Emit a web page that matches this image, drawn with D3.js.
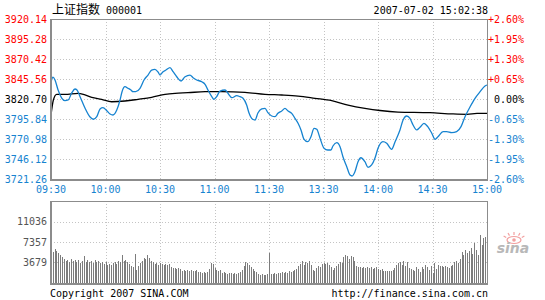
<!DOCTYPE html>
<html>
<head>
<meta charset="utf-8">
<script src="https://cdn.jsdelivr.net/npm/d3@7"></script>
<style>
  body { margin: 0; background: #fff; }
  svg { display: block; }
  text { font-family: "DejaVu Sans Mono", "Liberation Mono", monospace; font-size: 10px; }
</style>
</head>
<body>
<div id="chart"></div>
<script>
// --- data ---
const priceTicks = [3920.14, 3895.28, 3870.42, 3845.56, 3820.70, 3795.84, 3770.98, 3746.12, 3721.26];
const pctLabels = ["+2.60%", "+1.95%", "+1.30%", "+0.65%", "0.00%", "-0.65%", "-1.30%", "-1.95%", "-2.60%"];
const timeTicks = [0, 30, 60, 90, 120, 150, 180, 210, 240];
const timeLabels = ["09:30", "10:00", "10:30", "11:00", "11:30", "13:30", "14:00", "14:30", "15:00"];
const volTicks = [3679, 7357, 11036];
const volMax = 14715;

// index line (minute from open, price)
const priceMinutes = [0, 1.1, 2.2, 3.9, 5.9, 7.7, 9.5, 11.4, 13.2, 14.3, 16, 18.7, 21.5, 23.3, 25.2, 27, 28.6, 30.7, 32.5, 34.1,
  36.2, 38, 39.1, 40.7, 42.4, 44, 45.1, 46.6, 49, 51.2, 53.4, 55.4, 57.2, 58.9, 60, 61.7, 63.3, 65.5, 67.2, 69.2,
  71.6, 73.8, 76.5, 78.2, 80.2, 83, 84.8, 86.4, 88.5, 89.7, 91.2, 93, 95.8, 97.4, 99.6, 102.2, 104, 105.7, 107.7, 109,
  111, 112.3, 113.9, 116, 117.8, 119.4, 121.5, 123.3, 124.9, 127, 128.8, 130.5, 132.5, 134.3, 136, 137.6, 139.3, 141.3, 143.1, 144.8,
  146.3, 148.1, 150.3, 152.3, 154.1, 155.2, 157.3, 159.1, 160.7, 162.8, 164.6, 165.7, 167.3, 169, 170.6, 172.8, 174.5, 176.5, 178.3, 180,
  182.7, 184.8, 187.5, 189.4, 192.1, 193.8, 195.8, 197.6, 199.3, 201.3, 203.1, 205.3, 207.4, 209.6, 211.4, 213, 215.8, 217.8, 220.6, 223.3,
  225.7, 227.9, 230.7, 233.4, 236.2, 238.9, 240];
const priceValues = [3841.8, 3848.0, 3844.3, 3831.9, 3821.9, 3818.6, 3819.5, 3828.2, 3833.1, 3831.9, 3823.6, 3809.5, 3798.3, 3795.5, 3798.7, 3808.3, 3809.9, 3806.2, 3802.1, 3800.8,
  3807.0, 3819.5, 3829.8, 3836.0, 3834.0, 3831.9, 3829.8, 3829.8, 3834.0, 3844.3, 3850.5, 3856.7, 3857.6, 3854.3, 3850.5, 3854.6, 3856.7, 3859.6, 3854.6, 3848.4,
  3843.1, 3848.4, 3850.5, 3847.2, 3844.3, 3842.2, 3839.0, 3831.9, 3823.6, 3820.3, 3823.6, 3830.6, 3831.9, 3827.8, 3822.3, 3824.8, 3823.6, 3821.6, 3813.2, 3803.3,
  3795.5, 3794.6, 3803.3, 3808.3, 3809.1, 3803.7, 3799.6, 3798.7, 3802.9, 3805.8, 3809.1, 3805.8, 3802.9, 3796.7, 3790.5, 3782.2, 3770.6, 3767.6, 3773.8, 3784.3,
  3783.0, 3771.9, 3759.4, 3757.3, 3757.3, 3762.3, 3766.4, 3761.4, 3749.0, 3736.5, 3726.2, 3725.0, 3730.3, 3742.8, 3747.7, 3742.8, 3735.8, 3738.7, 3747.0, 3759.4,
  3767.6, 3765.6, 3758.2, 3767.6, 3782.2, 3794.6, 3799.6, 3796.7, 3788.4, 3782.2, 3785.5, 3790.5, 3786.3, 3778.1, 3770.6, 3773.8, 3780.1, 3780.1, 3778.8, 3780.1,
  3786.3, 3798.7, 3811.1, 3821.6, 3829.8, 3836.9, 3838.1];

// average price line
const avgMinutes = [0, 1.3, 3.1, 7.7, 14.9, 18.7, 22.4, 27.9, 33.4, 40.7, 47.9, 55.4, 62.8, 68.3, 75.4, 84.8, 94, 106.8, 117.8, 127,
  136, 145.3, 154.5, 163.5, 172.8, 181.1, 191, 208.6, 221.3, 229, 234.5, 240];
const avgValues = [3800.8, 3819.5, 3826.5, 3826.5, 3827.8, 3825.7, 3822.8, 3820.3, 3817.3, 3818.2, 3820.3, 3822.8, 3826.5, 3827.8, 3828.5, 3829.8, 3829.8, 3829.0, 3826.5, 3825.7,
  3824.4, 3821.6, 3818.6, 3813.2, 3809.1, 3806.4, 3804.5, 3803.7, 3802.1, 3801.7, 3802.9, 3802.9];

// volume per minute
const volumes = [4860, 5580, 6120, 5760, 5400, 5040, 4680, 4320, 3960, 4140,
  3780, 4320, 3960, 4140, 3780, 4140, 3600, 3960, 4860, 3780,
  4140, 3780, 3960, 3600, 4140, 3780, 3960, 3600, 3780, 3420,
  3780, 3240, 3420, 3240, 3600, 3780, 3420, 3960, 3780, 5040,
  3960, 4140, 3780, 3420, 3060, 2880, 5220, 2340, 3060, 3600,
  3960, 4500, 4320, 5040, 4500, 3960, 3780, 3420, 3600, 3240,
  3600, 3420, 3240, 3420, 3240, 3420, 2880, 2700, 2700, 2520,
  2700, 2520, 2160, 2340, 2160, 2340, 2160, 2340, 2160, 2160,
  2340, 1980, 1980, 1800, 1980, 1800, 1980, 2520, 3600, 3420,
  2700, 2340, 2160, 2340, 1800, 1980, 1800, 1620, 1800, 1800,
  1620, 1800, 1620, 1800, 1980, 2340, 3060, 3780, 3600, 3240,
  2880, 2520, 2160, 1980, 1620, 1440, 1620, 1440, 1440, 1620,
  5400, 1620, 1620, 1800, 1620, 1800, 1800, 1980, 1800, 1980,
  1800, 2160, 1980, 2160, 2340, 2520, 3060, 3420, 3960, 3240,
  3780, 3600, 3960, 3240, 2340, 2160, 2700, 3060, 2880, 3420,
  3600, 3420, 3600, 3240, 2880, 2340, 2700, 3060, 3420, 3780,
  3600, 4680, 5040, 4860, 4320, 4860, 4680, 3960, 3060, 2880,
  2880, 2700, 2880, 2700, 2880, 2700, 2880, 2520, 2700, 2880,
  2520, 2340, 2520, 2160, 2160, 2160, 2160, 2160, 2340, 2700,
  3240, 3600, 3780, 3240, 3960, 3060, 3780, 2700, 2520, 2340,
  2160, 2880, 2520, 1980, 2880, 2520, 3240, 2880, 2340, 3060,
  1800, 3600, 2520, 3240, 3060, 3060, 2880, 3060, 2880, 2700,
  3060, 3240, 3780, 3960, 3600, 4320, 5580, 5040, 5940, 5400,
  5760, 6300, 5220, 7200, 5940, 5040, 8640, 6840, 8100, 8280, 1080];

// --- chart ---
const width = 545, height = 300;
const plot = { left: 51, right: 487, top: 19, bottom: 179 };
const volPlot = { top: 201, bottom: 283 };
const red = "#ff0000", blue = "#1683d0", gridColor = "#c4c4c4", frame = "#8c8c8c";

const svg = d3.select("#chart").append("svg")
  .attr("width", width)
  .attr("height", height);

const x = d3.scaleLinear().domain([0, 240]).range([plot.left, plot.right]);
const y = d3.scaleLinear().domain([priceTicks[8], priceTicks[0]]).range([plot.bottom, plot.top]);
const yVol = d3.scaleLinear().domain([0, volMax]).range([volPlot.bottom, volPlot.top]);

function labelColor(i) {
  if (i < 4) return red;
  if (i === 4) return "#000";
  return blue;
}

// grids
const grid = svg.append("g")
  .attr("stroke", gridColor)
  .attr("stroke-dasharray", "1,2")
  .attr("shape-rendering", "crispEdges");

grid.selectAll("line.h")
  .data(priceTicks.slice(1, 8))
  .join("line")
  .attr("x1", plot.left).attr("x2", plot.right)
  .attr("y1", d => Math.round(y(d)) + 0.5).attr("y2", d => Math.round(y(d)) + 0.5);

grid.selectAll("line.v")
  .data(timeTicks.slice(1, 8))
  .join("line")
  .attr("x1", d => Math.round(x(d)) + 0.5).attr("x2", d => Math.round(x(d)) + 0.5)
  .attr("y1", plot.top).attr("y2", plot.bottom);

grid.selectAll("line.vh")
  .data(volTicks)
  .join("line")
  .attr("x1", plot.left).attr("x2", plot.right)
  .attr("y1", d => Math.round(yVol(d)) + 0.5).attr("y2", d => Math.round(yVol(d)) + 0.5);

grid.selectAll("line.vv")
  .data(timeTicks.slice(1, 8))
  .join("line")
  .attr("x1", d => Math.round(x(d)) + 0.5).attr("x2", d => Math.round(x(d)) + 0.5)
  .attr("y1", volPlot.top).attr("y2", volPlot.bottom);

// volume bars
svg.append("g")
  .attr("fill", "#7c7c7c")
  .attr("shape-rendering", "crispEdges")
  .selectAll("rect")
  .data(volumes)
  .join("rect")
  .attr("x", (d, i) => Math.round(x(i)))
  .attr("width", 1)
  .attr("y", d => yVol(d))
  .attr("height", d => yVol(0) - yVol(d));

// average line
const avgPts = avgMinutes.map((m, i) => [m, avgValues[i]]);
svg.append("path")
  .datum(avgPts)
  .attr("fill", "none")
  .attr("stroke", "#000")
  .attr("stroke-width", 1.3)
  .attr("d", d3.line().x(d => x(d[0])).y(d => y(d[1])).curve(d3.curveMonotoneX));

// index line
const pricePts = priceMinutes.map((m, i) => [m, priceValues[i]]);
svg.append("path")
  .datum(pricePts)
  .attr("fill", "none")
  .attr("stroke", blue)
  .attr("stroke-width", 1.3)
  .attr("stroke-linejoin", "round")
  .attr("d", d3.line().x(d => x(d[0])).y(d => y(d[1])).curve(d3.curveMonotoneX));

// frames
[[plot.top, plot.bottom], [volPlot.top, volPlot.bottom]].forEach(([t, b]) => {
  svg.append("rect")
    .attr("x", plot.left - 0.5).attr("y", t + 0.5)
    .attr("width", plot.right - plot.left + 1).attr("height", b - t)
    .attr("fill", "none")
    .attr("stroke", frame)
    .attr("shape-rendering", "crispEdges");
  svg.append("path")
    .attr("d", `M${plot.left},${t}V${b + 1}H${plot.right + 1}`)
    .attr("fill", "none")
    .attr("stroke", frame)
    .attr("stroke-width", 2)
    .attr("shape-rendering", "crispEdges");
});

// left price labels
svg.append("g")
  .attr("text-anchor", "end")
  .selectAll("text")
  .data(priceTicks)
  .join("text")
  .attr("x", plot.left - 4)
  .attr("y", d => y(d))
  .attr("dy", "0.35em")
  .attr("fill", (d, i) => labelColor(i))
  .text(d => d.toFixed(2));

// right percent labels
svg.append("g")
  .attr("text-anchor", "end")
  .selectAll("text")
  .data(pctLabels)
  .join("text")
  .attr("x", 524)
  .attr("y", (d, i) => y(priceTicks[i]))
  .attr("dy", "0.35em")
  .attr("fill", (d, i) => labelColor(i))
  .text(d => d);

// time labels
svg.append("g")
  .attr("text-anchor", "middle")
  .attr("fill", blue)
  .selectAll("text")
  .data(timeTicks)
  .join("text")
  .attr("x", d => x(d))
  .attr("y", 193)
  .text((d, i) => timeLabels[i]);

// volume labels
svg.append("g")
  .attr("text-anchor", "end")
  .attr("fill", "#555")
  .selectAll("text")
  .data(volTicks)
  .join("text")
  .attr("x", plot.left - 4)
  .attr("y", d => yVol(d))
  .attr("dy", "0.35em")
  .text(d => d);

// header
svg.append("text")
  .attr("x", 52).attr("y", 14)
  .style("font-family", "'Noto Sans CJK SC', sans-serif")
  .style("font-size", "12px")
  .text("上证指数");
svg.append("text")
  .attr("x", 106).attr("y", 14)
  .text("000001");
svg.append("text")
  .attr("x", 488).attr("y", 14)
  .attr("text-anchor", "end")
  .text("2007-07-02 15:02:38");

// footer
svg.append("text")
  .attr("x", 50).attr("y", 297)
  .text("Copyright 2007 SINA.COM");
svg.append("text")
  .attr("x", 488).attr("y", 297)
  .attr("text-anchor", "end")
  .text("http://finance.sina.com.cn");

// sina watermark
const logo = svg.append("g").attr("transform", "translate(514,240)");
logo.append("ellipse")
  .attr("cx", 0).attr("cy", 0).attr("rx", 7).attr("ry", 3.5)
  .attr("fill", "none").attr("stroke", "#f2a0a0").attr("stroke-width", 1.2);
logo.append("circle")
  .attr("cx", 0).attr("cy", 0).attr("r", 1.8)
  .attr("fill", "#f2a0a0");
logo.selectAll("line")
  .data([-60, -30, 0, 30, 60])
  .join("line")
  .attr("x1", d => 9 * Math.sin(d * Math.PI / 180)).attr("y1", d => -5 * Math.cos(d * Math.PI / 180))
  .attr("x2", d => 12 * Math.sin(d * Math.PI / 180)).attr("y2", d => -8 * Math.cos(d * Math.PI / 180))
  .attr("stroke", "#f2a0a0").attr("stroke-width", 1.2);
svg.append("text")
  .attr("x", 513).attr("y", 253)
  .attr("text-anchor", "middle")
  .attr("fill", "#b8b8b8")
  .style("font-family", "'DejaVu Sans', sans-serif")
  .style("font-size", "14px")
  .style("font-weight", "bold")
  .style("font-style", "italic")
  .text("sina");
</script>
</body>
</html>
